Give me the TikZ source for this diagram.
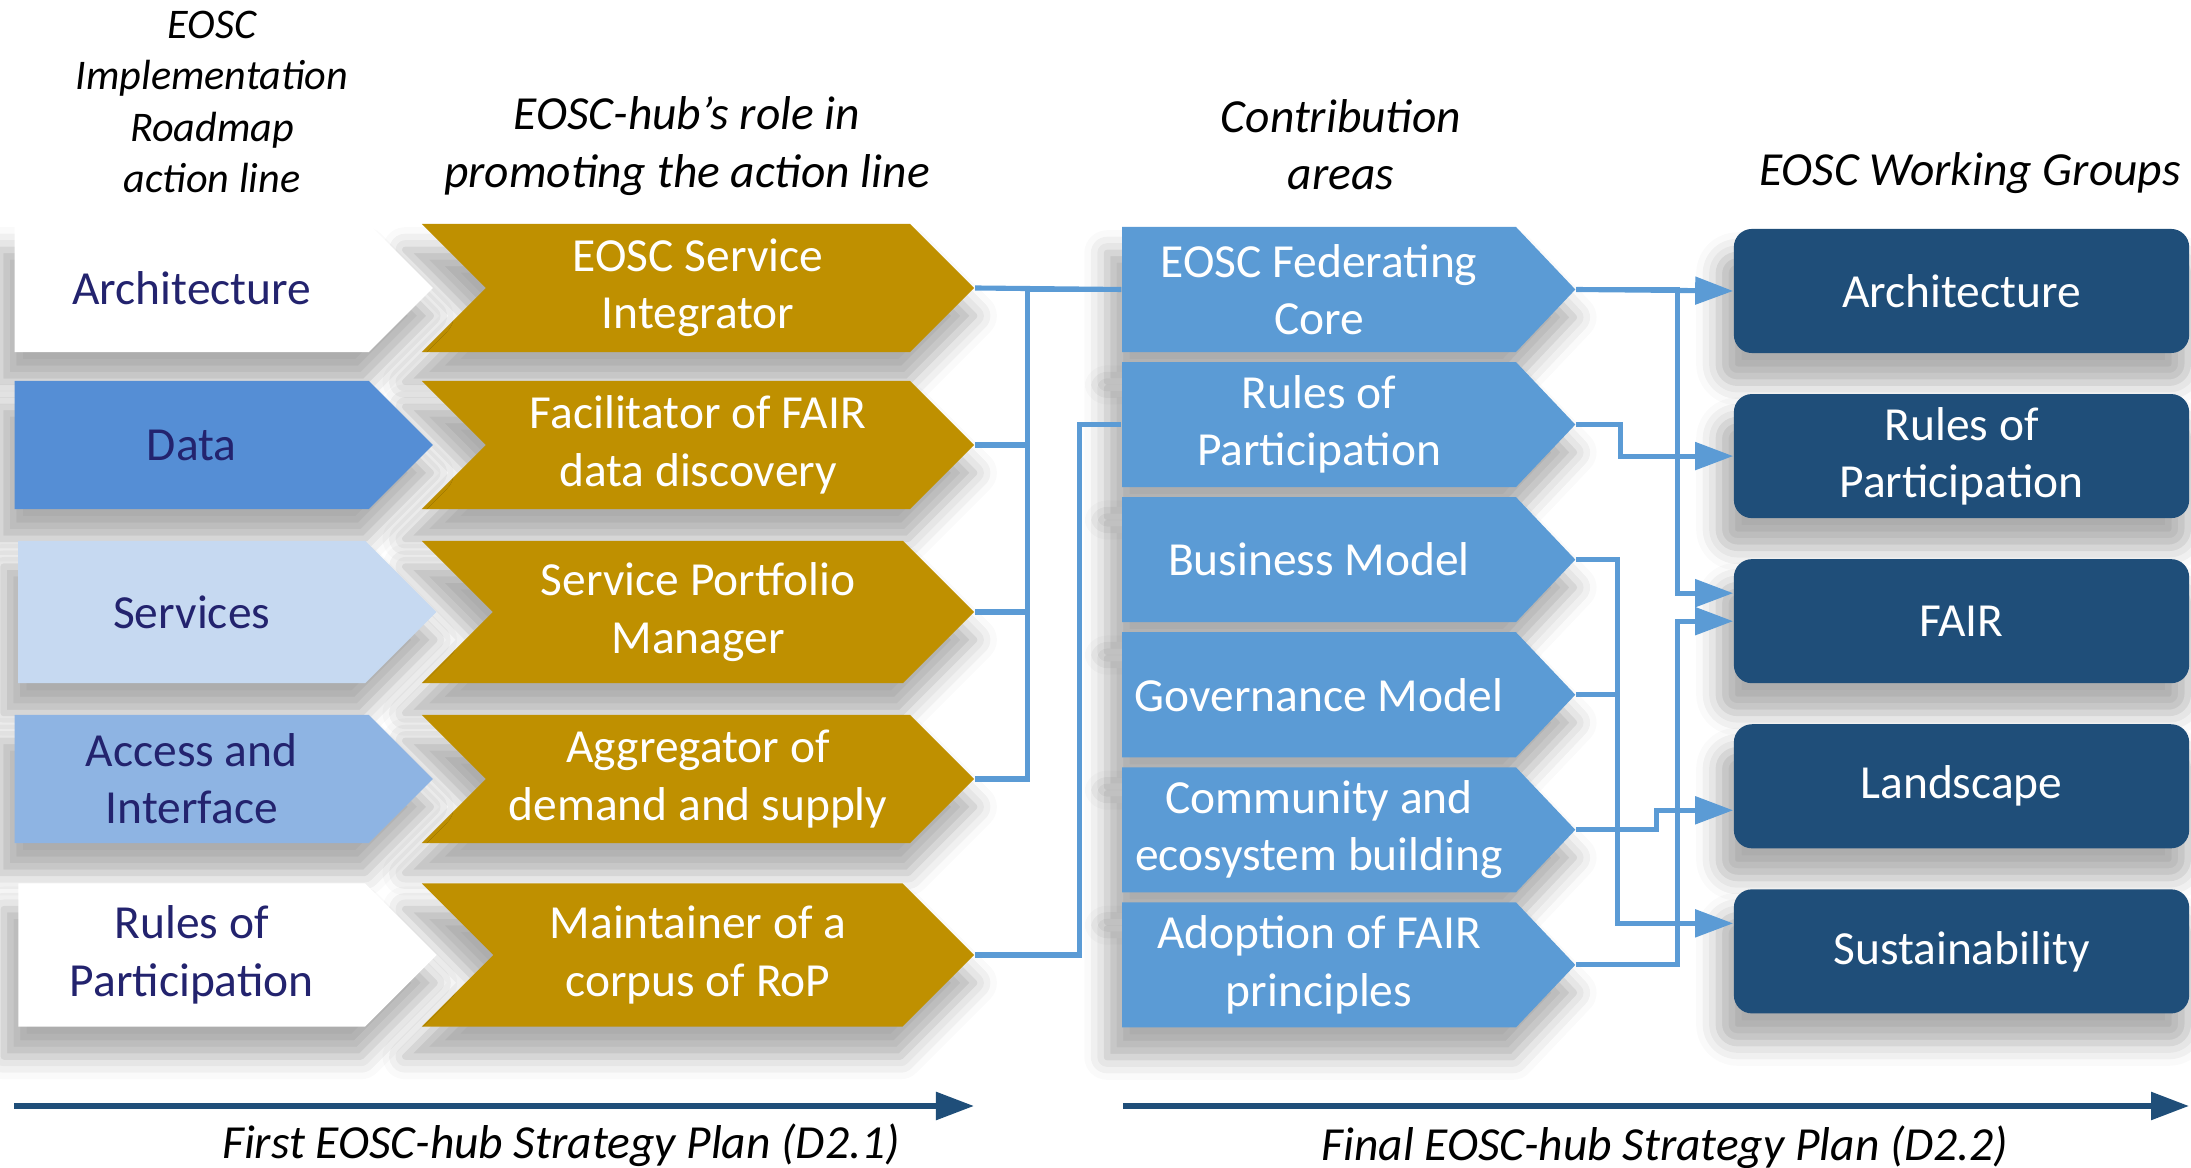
\documentclass[tikz,border=0pt]{standalone}
\usepackage{fontspec}
\setmainfont{Carlito}
\usepackage{tikz}
\usetikzlibrary{arrows.meta,shapes.symbols,shadows.blur}

\definecolor{gold}{HTML}{BF9000}
\definecolor{areablue}{HTML}{5B9BD5}
\definecolor{wgblue}{HTML}{1F4E79}
\definecolor{navy}{HTML}{23236E}
\definecolor{datablue}{HTML}{558ED5}
\definecolor{servblue}{HTML}{C6D9F1}
\definecolor{accblue}{HTML}{8EB4E3}

\tikzset{
  boxfont/.style={font=\fontsize{13.5}{16.3}\selectfont},
  softshadow/.style={blur shadow={shadow xshift=-0.08cm,shadow yshift=-0.27cm,shadow scale=1.03,shadow blur radius=0.22cm,shadow opacity=32}},
  actionline/.style={shape=signal,signal to=east,signal pointer angle=90,minimum width=4.18cm,inner sep=0pt,align=center,boxfont,text=navy,softshadow},
  rolebox/.style={shape=signal,signal to=east,signal from=west,signal pointer angle=90,minimum width=5.52cm,inner sep=0pt,align=center,boxfont,text=white,fill=gold,softshadow},
  areabox/.style={shape=signal,signal to=east,signal pointer angle=93,minimum width=4.53cm,minimum height=1.25cm,inner sep=0pt,align=center,boxfont,text=white,fill=areablue,softshadow},
  wgbox/.style={rectangle,rounded corners=0.18cm,minimum width=4.55cm,minimum height=1.24cm,align=center,boxfont,text=white,fill=wgblue,softshadow},
  heading/.style={align=center,font=\fontsize{13.5}{16.3}\selectfont\itshape},
  conn/.style={draw=areablue,line width=1.45pt},
  tip/.style={-{Triangle[length=0.38cm,width=0.27cm]}},
  planarrow/.style={draw=wgblue,line width=1.6pt,tip},
}

\begin{document}
\begin{tikzpicture}[x=0.01cm,y=-0.01cm,node distance=1.35cm]
 \useasboundingbox (0,0) rectangle (2191,1168);

 % column headings
 \node[heading,font=\fontsize{12}{14.6}\selectfont\itshape] (hline) at (212,102) {EOSC\\Implementation\\Roadmap\\action line};
 \node[heading] (hrole) at (687,146) {EOSC-hub’s role in\\promoting the action line};
 \node[heading] (harea) at (1341,145) {Contribution\\areas};
 \node[heading] (hwg) at (1970,173) {EOSC Working Groups};

 % EOSC-hub roles
 \node[rolebox,minimum height=1.28cm] (g1) at (698,288) {EOSC Service\\Integrator};
 \node[rolebox,minimum height=1.28cm] (g2) at (698,445) {Facilitator of FAIR\\data discovery};
 \node[rolebox,minimum height=1.42cm] (g3) at (698,612) {Service Portfolio\\Manager};
 \node[rolebox,minimum height=1.28cm] (g4) at (698,779) {Aggregator of\\demand and supply};
 \node[rolebox,minimum height=1.43cm] (g5) at (698,955) {Maintainer of a\\corpus of RoP};

 % action lines
 \node[actionline,fill=white,minimum height=1.28cm,left of=g1,node distance=5.06cm] (a1) {Architecture};
 \node[actionline,fill=datablue,minimum height=1.28cm,left of=g2,node distance=5.06cm] (a2) {Data};
 \node[actionline,fill=servblue,minimum height=1.42cm,left of=g3,node distance=5.06cm] (a3) {Services};
 \node[actionline,fill=accblue,minimum height=1.28cm,left of=g4,node distance=5.06cm] (a4) {Access and\\Interface};
 \node[actionline,fill=white,minimum height=1.43cm,left of=g5,node distance=5.06cm] (a5) {Rules of\\Participation};

 % contribution areas
 \node[areabox] (b1) at (1319,289.5) {EOSC Federating\\Core};
 \node[areabox,below of=b1] (b2) {Rules of\\Participation};
 \node[areabox,below of=b2] (b3) {Business Model};
 \node[areabox,below of=b3] (b4) {Governance Model};
 \node[areabox,below of=b4] (b5) {Community and\\ecosystem building};
 \node[areabox,below of=b5] (b6) {Adoption of FAIR\\principles};

 % working groups
 \node[wgbox] (w1) at (1961.5,291) {Architecture};
 \node[wgbox,below of=w1,node distance=1.65cm] (w2) {Rules of\\Participation};
 \node[wgbox,below of=w2,node distance=1.65cm] (w3) {FAIR};
 \node[wgbox,below of=w3,node distance=1.65cm] (w4) {Landscape};
 \node[wgbox,below of=w4,node distance=1.65cm] (w5) {Sustainability};

 % roles -> areas
 \draw[conn] (g1.east) -- (b1.west);
 \draw[conn] (g4.east) -- ++(52,0) |- (b1.west);
 \draw[conn] (g2.east) -- ++(52,0);
 \draw[conn] (g3.east) -- ++(52,0);
 \draw[conn] (g5.east) -- ++(104,0) |- (b2.west);

 % areas -> working groups
 \draw[conn,tip] (b1.east) -- (w1.west);
 \draw[conn,tip] (b1.east) -- ++(101,0) |- ([yshift=0.28cm]w3.west);
 \draw[conn,tip] (b2.east) -- ++(44,0) |- (w2.west);
 \draw[conn,tip] (b3.east) -- ++(41,0) |- ([yshift=0.28cm]w5.west);
 \draw[conn] (b4.east) -- ++(41,0);
 \draw[conn,tip] (b5.east) -- ++(80,0) |- ([yshift=-0.24cm]w4.west);
 \draw[conn,tip] (b6.east) -- ++(101,0) |- (w3.west);

 % strategy plans
 \coordinate (p1s) at (14,1106);
 \coordinate (p1e) at (974,1106);
 \coordinate (p2s) at (1123,1106);
 \coordinate (p2e) at (2189,1106);
 \draw[planarrow] (p1s) -- (p1e);
 \draw[planarrow] (p2s) -- (p2e);
 \node[heading] (plan1) at (561,1145) {First EOSC-hub Strategy Plan (D2.1)};
 \node[heading] (plan2) at (1665,1147) {Final EOSC-hub Strategy Plan (D2.2)};
\end{tikzpicture}
\end{document}
